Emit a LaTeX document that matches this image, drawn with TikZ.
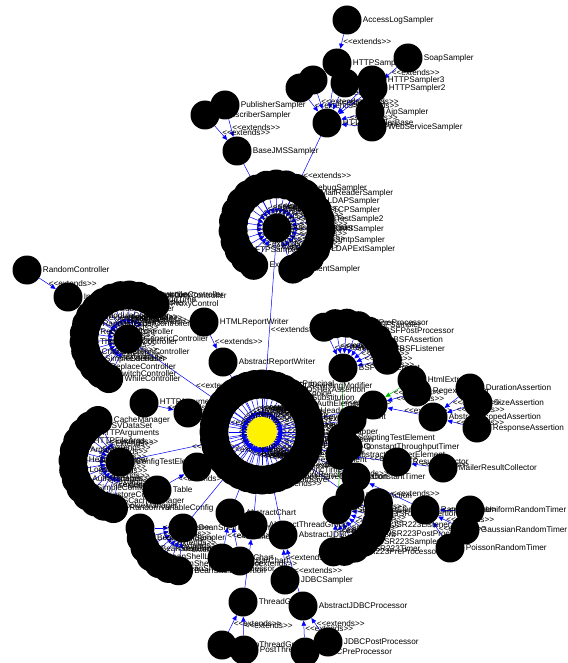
\documentclass[tikz,border=0pt]{standalone}
\usepackage{fontspec}
\setmainfont{Liberation Sans}
\usetikzlibrary{arrows.meta,calc,backgrounds}
\newcommand{\lbl}{\fontsize{8.2}{8.5}\selectfont}
\newcommand{\extxt}{<\kern0pt<extends>\kern0pt>}
\tikzset{
  cls/.style={circle, fill=black, inner sep=0pt, minimum size=29pt},
  hubnode/.style={circle, fill=yellow, inner sep=0pt, minimum size=30pt},
  nm/.style={font=\lbl, inner sep=1pt},
  isa/.style={draw=blue, line width=0.5pt, -{Triangle[length=5pt,width=4.5pt]}},
  impl/.style={isa, draw=green!75!black},
  tag/.style={font=\lbl, anchor=west, inner sep=1pt, pos=0.5},
}
\newcommand{\cls}[3]{\node[cls, label={[nm]0:#3}] (#1) at (#2) {};}
\newcommand{\isa}[2]{\draw[isa] (#1) -- node[tag]{\extxt} (#2);}
\newcommand{\impl}[2]{\draw[impl] (#1) -- node[tag]{\extxt} (#2);}

\begin{document}
\begin{tikzpicture}[x=1pt, y=-1pt]
  \useasboundingbox (0,0) rectangle (567,663);
  % http samplers
  \cls{acc}{347,20}{AccessLogSampler}
  \cls{soap}{408,58}{SoapSampler}
  \cls{https}{337,63}{HTTPSampler}
  \cls{hx1}{300,88}{}
  \cls{hx2}{313,80}{}
  \cls{hx3}{345,83}{}
  \cls{hs3}{372,80}{HTTPSampler3}
  \cls{hs2}{373,88}{HTTPSampler2}
  \cls{hbase}{327,123}{HTTPSamplerBase}
  \cls{ajp}{370,112}{AjpSampler}
  \cls{ws}{372,127}{WebServiceSampler}
  % jms
  \cls{sub}{205,115}{SubscriberSampler}
  \cls{pub}{225,105}{PublisherSampler}
  \cls{jms}{237,151}{BaseJMSSampler}
  % sampler ring
  \coordinate (sc) at (277,228);
  \foreach \ang/\cname [count=\i] in {-69/ClientSampler, -56/{}, -42/{}, -29/LDAPExtSampler,
      -16/SmtpSampler, -2/JMSSampler, 11/TestSample2, 24/TCPSampler, 38/LDAPSampler,
      51/MailReaderSampler, 64/DebugSampler, 78/{}, 91/{}, 104/{}, 118/{}, 131/{}, 144/{},
      158/{}, 171/{}, 184/{}, 198/{}, 211/FTPSampler, 224/{}, 238/ExecSampler}
    {\node[cls, label={[nm]0:\cname}] (s\i) at ($(sc)+(\ang:44pt)$) {};}
  \cls{samp}{277,228}{AbstractSampler}
  % controllers
  \cls{rnd}{27,270}{RandomController}
  \cls{intl}{68,297}{InterleaveControl}
  \coordinate (cc) at (128,339);
  \foreach \ang/\cname [count=\i] in {52/ProxyControl, 64/RunTime, 76/OnceOnlyController,
      88/TransactionController, 100/LoopController, 112/IfController, 124/ForeachController,
      136/IncludeController, 148/ModuleController, 160/RandomOrderController,
      172/RecordingController, 184/ThroughputController, 196/CriticalSectionController,
      208/SimpleController, 220/ReplaceController, 232/SwitchController, 244/WhileController}
    {\node[cls, label={[nm]0:\cname}] (c\i) at ($(cc)+(\ang:44pt)$) {};}
  \cls{ctrl}{128,339}{GenericController}
  \cls{html}{204,322}{HTMLReportWriter}
  \cls{arw}{223,362}{AbstractReportWriter}
  % config
  \coordinate (fc) at (120,462);
  \foreach \ang/\cname [count=\i] in {118/CacheManager, 130/CSVDataSet, 142/HTTPArguments,
      154/HTTPFileArgs, 166/Arguments, 178/HeaderManager, 190/LoginConfig, 202/AuthManager,
      214/SimpleConfig, 226/KeystoreConfig, 238/DNSCacheManager, 250/CookieManager,
      262/RandomVariableConfig}
    {\node[cls, label={[nm]0:\cname}] (f\i) at ($(fc)+(\ang:47pt)$) {};}
  \cls{cfg}{120,462}{ConfigTestElement}
  \cls{harg}{144,403}{HTTPArgument}
  \cls{arg}{188,413}{}
  \cls{tbl}{157,490}{Table}
  \cls{tmod}{197,467}{}
  % beanshell
  \coordinate (bc) at (183,528);
  \foreach \ang/\cname [count=\i] in {180/{}, 194/BeanShellSampler, 208/BeanShellTimer,
      222/BeanShellListener, 236/BeanShellPreProcessor, 250/BeanShellPostProcessor,
      264/BeanShellAssertion}
    {\node[cls, label={[nm]0:\cname}] (b\i) at ($(bc)+(\ang:43pt)$) {};}
  \cls{bsh}{183,528}{BeanShellTestElement}
  % hub ring
  \coordinate (hc) at (262,432);
  \foreach \ang/\cname [count=\i] in {-90/{}, -81/ResultSaver, -72/SampleSaveConfiguration,
      -63/WorkBench, -54/SyncTimer, -45/TestPlan, -36/TestFragment, -27/LoopIterator,
      -18/HTTPFileArg, -9/Authorization, 0/ScriptWrapper, 9/Header, 18/KeystoreElement,
      27/HeaderElement, 36/AuthElement, 45/Substitution, 54/Cookie, 63/MD5HexAssertion,
      72/URLRewritingModifier, 81/UserPrincipal, 90/{}, 99/{}, 108/{}, 117/{}, 126/{},
      135/{}, 144/{}, 153/{}, 162/{}, 171/{}, 180/{}, 189/{}, 198/{}, 207/{}, 216/{},
      225/{}, 234/{}, 243/{}, 252/{}, 261/{}}
    {\node[cls, label={[nm]0:\cname}] (h\i) at ($(hc)+(\ang:48pt)$) {};}
  % bottom
  \cls{athg}{253,525}{AbstractThreadGroup}
  \cls{achart}{230,513}{AbstractChart}
  \cls{ajdbc}{283,535}{AbstractJDBCTestElement}
  \cls{lchart}{222,558}{LineChart}
  \cls{bchart}{240,561}{BarChart}
  \cls{jdbcs}{285,580}{JDBCSampler}
  \cls{thg}{243,602}{ThreadGroup}
  \cls{ajdbcp}{303,606}{AbstractJDBCProcessor}
  \cls{setup}{222,645}{SetupThreadGroup}
  \cls{post}{244,650}{PostThreadGroup}
  \cls{jpre}{305,652}{JDBCPreProcessor}
  \cls{jpost}{328,642}{JDBCPostProcessor}
  % bsf
  \coordinate (fs) at (343,368);
  \foreach \ang/\cname [count=\i] in {115/{}, 100/{}, 85/BSFPreProcessor, 70/BSFSampler,
      55/BSFPostProcessor, 40/BSFAssertion, 25/BSFListener, 10/{}}
    {\node[cls, label={[nm]0:\cname}] (q\i) at ($(fs)+(\ang:45pt)$) {};}
  \cls{bsf}{343,368}{BSFTestElement}
  % extractors and assertions
  \cls{pp}{373,405}{}
  \cls{pp2}{352,420}{}
  \cls{htmlx}{412,380}{HtmlExtractor}
  \cls{regx}{417,392}{RegexExtractor}
  \cls{sass}{433,417}{AbstractScopedAssertion}
  \cls{dur}{470,388}{DurationAssertion}
  \cls{size}{478,403}{SizeAssertion}
  \cls{resp}{477,428}{ResponseAssertion}
  % scripting, listeners, timers
  \cls{scr}{342,438}{ScriptingTestElement}
  \cls{ctt}{348,447}{ConstantThroughputTimer}
  \cls{ale}{340,455}{AbstractListenerElement}
  \cls{rc}{397,462}{ResultCollector}
  \cls{mrc}{443,468}{MailerResultCollector}
  \cls{ctimer}{356,477}{ConstantTimer}
  \cls{ract}{350,496}{ResultAction}
  \cls{rt}{425,510}{RandomTimer}
  \cls{urt}{470,510}{UniformRandomTimer}
  \cls{grt}{465,530}{GaussianRandomTimer}
  \cls{prt}{450,548}{PoissonRandomTimer}
  % jsr223
  \coordinate (js) at (337,510);
  \foreach \ang/\cname [count=\i] in {10/{}, -5/JSR223Assertion, -20/JSR223Listener,
      -35/JSR223PostProcessor, -50/JSR223Sampler, -65/JSR223Timer, -80/JSR223PreProcessor,
      -95/{}}
    {\node[cls, label={[nm]0:\cname}] (j\i) at ($(js)+(\ang:42pt)$) {};}
  \cls{jsr}{337,510}{JSR223TestElement}
  % root
  \node[hubnode] (hub) at (hc) {};

  \begin{scope}[on background layer]
    \isa{acc}{https}
    \isa{soap}{hs2}
    \foreach \n in {https,hx1,hx2,hx3,hs3,hs2,ajp,ws} {\isa{\n}{hbase}}
    \isa{hbase}{samp}
    \isa{pub}{jms}
    \isa{sub}{jms}
    \isa{jms}{samp}
    \foreach \i in {1,...,24} {\isa{s\i}{samp}}
    \isa{samp}{hub}
    \isa{rnd}{intl}
    \isa{intl}{ctrl}
    \foreach \i in {1,...,17} {\isa{c\i}{ctrl}}
    \isa{ctrl}{hub}
    \isa{html}{arw}
    \isa{arw}{hub}
    \foreach \i in {1,...,13} {\isa{f\i}{cfg}}
    \isa{cfg}{hub}
    \isa{harg}{arg}
    \isa{arg}{hub}
    \isa{tbl}{tmod}
    \isa{tmod}{hub}
    \foreach \i in {1,...,7} {\isa{b\i}{bsh}}
    \isa{bsh}{hub}
    \foreach \i in {1,...,40} {\isa{h\i}{hub}}
    \isa{lchart}{achart}
    \isa{bchart}{achart}
    \isa{achart}{hub}
    \isa{thg}{athg}
    \isa{athg}{hub}
    \isa{setup}{thg}
    \isa{post}{thg}
    \isa{jdbcs}{ajdbc}
    \isa{ajdbcp}{ajdbc}
    \isa{ajdbc}{hub}
    \isa{jpre}{ajdbcp}
    \isa{jpost}{ajdbcp}
    \foreach \i in {1,...,8} {\isa{q\i}{bsf}}
    \impl{bsf}{scr}
    \impl{htmlx}{pp}
    \isa{regx}{pp}
    \isa{sass}{pp}
    \isa{dur}{sass}
    \isa{size}{sass}
    \isa{resp}{sass}
    \isa{pp}{hub}
    \isa{pp2}{hub}
    \isa{scr}{hub}
    \isa{ctt}{hub}
    \isa{ale}{hub}
    \isa{rc}{ale}
    \isa{mrc}{rc}
    \isa{ctimer}{hub}
    \isa{rt}{ctimer}
    \isa{urt}{rt}
    \isa{grt}{rt}
    \isa{prt}{rt}
    \isa{ract}{hub}
    \foreach \i in {1,...,8} {\isa{j\i}{jsr}}
    \impl{jsr}{scr}
  \end{scope}
\end{tikzpicture}
\end{document}
